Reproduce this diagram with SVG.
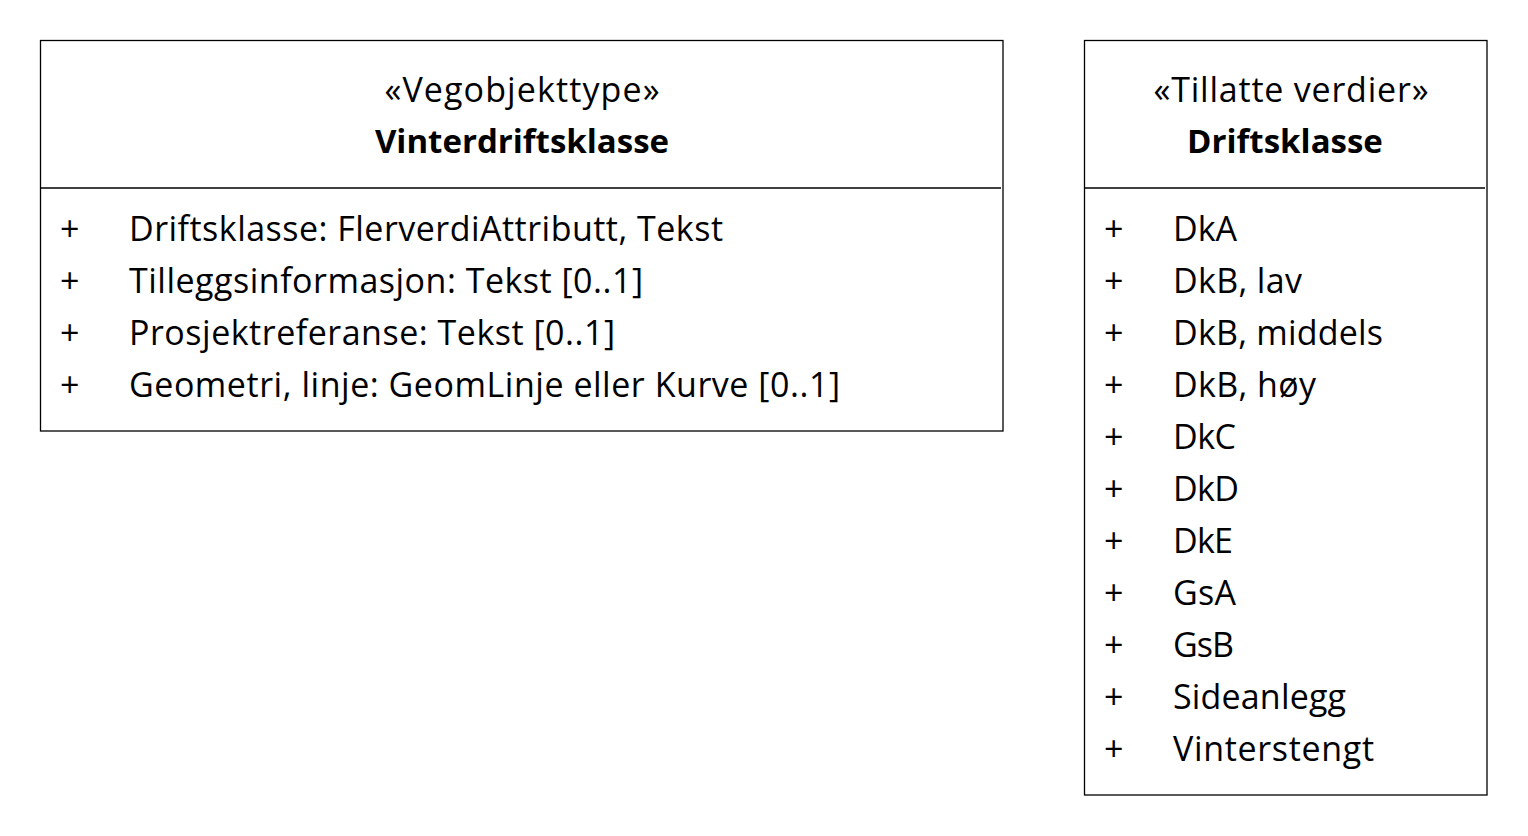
<svg xmlns="http://www.w3.org/2000/svg" width="1528" height="836" viewBox="0 0 1528 836">
  <style>
    .box { fill: #ffffff; stroke: #000000; stroke-width: 1.3; }
    .sep { stroke: #000000; stroke-width: 1.3; }
    text { font-family: "Open Sans", Lato, "Liberation Sans", sans-serif; font-size: 34px; fill: #000000; }
    .title { text-anchor: middle; }
    .name { font-weight: bold; font-size: 33px; text-anchor: middle; }
  </style>
  <rect width="1528" height="836" fill="#ffffff"/>

  <!-- Road object type class -->
  <g id="vinterdriftsklasse">
    <rect class="box" x="40.5" y="40.5" width="962.5" height="390.5"/>
    <line class="sep" x1="40.5" y1="188" x2="1001" y2="188"/>
    <text class="title" x="522" y="102" textLength="275">«Vegobjekttype»</text>
    <text class="name" x="522" y="153">Vinterdriftsklasse</text>
    <text x="60" y="241">+</text>
    <text x="129" y="241" textLength="594">Driftsklasse: FlerverdiAttributt, Tekst</text>
    <text x="60" y="293">+</text>
    <text x="129" y="293" textLength="514">Tilleggsinformasjon: Tekst [0..1]</text>
    <text x="60" y="345">+</text>
    <text x="129" y="345" textLength="486">Prosjektreferanse: Tekst [0..1]</text>
    <text x="60" y="397">+</text>
    <text x="129" y="397" textLength="711">Geometri, linje: GeomLinje eller Kurve [0..1]</text>
  </g>

  <!-- Allowed values enumeration -->
  <g id="driftsklasse">
    <rect class="box" x="1084.5" y="40.5" width="402.5" height="754.5"/>
    <line class="sep" x1="1084.5" y1="188" x2="1485" y2="188"/>
    <text class="title" x="1291" y="102" textLength="275">«Tillatte verdier»</text>
    <text class="name" x="1285" y="153">Driftsklasse</text>
    <text x="1104" y="241">+</text><text x="1173" y="241" textLength="64">DkA</text>
    <text x="1104" y="293">+</text><text x="1173" y="293" textLength="129">DkB, lav</text>
    <text x="1104" y="345">+</text><text x="1173" y="345" textLength="210">DkB, middels</text>
    <text x="1104" y="397">+</text><text x="1173" y="397" textLength="143">DkB, høy</text>
    <text x="1104" y="449">+</text><text x="1173" y="449" textLength="63">DkC</text>
    <text x="1104" y="501">+</text><text x="1173" y="501" textLength="66">DkD</text>
    <text x="1104" y="553">+</text><text x="1173" y="553" textLength="60">DkE</text>
    <text x="1104" y="605">+</text><text x="1173" y="605" textLength="63">GsA</text>
    <text x="1104" y="657">+</text><text x="1173" y="657" textLength="61">GsB</text>
    <text x="1104" y="709">+</text><text x="1173" y="709" textLength="173">Sideanlegg</text>
    <text x="1104" y="761">+</text><text x="1173" y="761" textLength="201">Vinterstengt</text>
  </g>

  <g id="connectors"/>
</svg>
